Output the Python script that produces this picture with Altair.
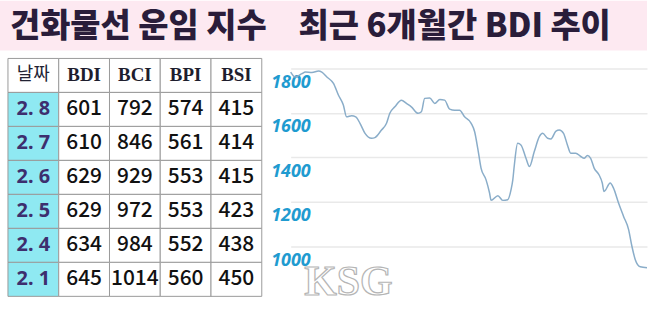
import altair as alt
import pandas as pd

# ---------------- data ----------------
title_left = "건화물선 운임 지수"
title_right = "최근 6개월간 BDI 추이"

headers = ["날짜", "BDI", "BCI", "BPI", "BSI"]
dates = ["2. 8", "2. 7", "2. 6", "2. 5", "2. 4", "2. 1"]
bdi = [601, 610, 629, 629, 634, 645]
bci = [792, 846, 929, 972, 984, 1014]
bpi = [574, 561, 553, 553, 552, 560]
bsi = [415, 414, 415, 423, 438, 450]

# 6-month BDI trend
trend_day = [0, 2.4, 5.8, 7.6, 11, 14.4, 16.1, 18.7, 22.1, 24.7, 27.2, 28.9, 31.5, 33.6,
             35.8, 38.4, 41.8, 43.5, 46.9, 49.5, 51.2, 53.8, 57.2, 59.8, 62.3, 65.8, 67.5,
             69.2, 71.8, 74.4, 77, 79.5, 82.1, 84.7, 87.2, 89.8, 93.2, 95, 96.6, 98.3, 100.9,
             102.7, 103.5, 107, 109.5, 112.1, 113.8, 114.7, 115.5, 117.2, 118.9, 121.5, 123.3,
             125.8, 128.4, 130.1, 132.7, 134.4, 137, 138.7, 140.9, 142.9, 144.6, 147.2, 149.8,
             151.5, 153.2, 154.9, 156.7, 159.2, 160.9, 161.8, 165, 166.7, 169.3, 171.9, 174.5,
             176.2, 177.9, 180.5, 184]
trend_bdi = [1783, 1761, 1776, 1783, 1781, 1788, 1783, 1761, 1732, 1679, 1635, 1582, 1587, 1582,
             1553, 1508, 1486, 1489, 1523, 1553, 1598, 1627, 1657, 1642, 1627, 1598, 1605,
             1665, 1667, 1642, 1660, 1657, 1617, 1612, 1612, 1582, 1553, 1515, 1441, 1352, 1299,
             1240, 1207, 1228, 1207, 1210, 1255, 1299, 1366, 1463, 1456, 1396, 1359,
             1426, 1493, 1508, 1486, 1483, 1518, 1523, 1508, 1456, 1419, 1419, 1404,
             1396, 1408, 1396, 1352, 1322, 1285, 1247, 1285, 1262, 1195, 1135, 1076,
             1001, 942, 909, 905]
y_ticks = [1000, 1200, 1400, 1600, 1800]
watermark = "KSG"

# ---------------- styling ----------------
BAND = "#fde9f1"
TITLE_COLOR = "#2a1d3a"
CYAN = "#8fe9f2"
BORDER = "#9a9a9a"
KFONT = "Noto Sans CJK KR"

# ---------------- title band ----------------
def title_text(s, x, size):
    return alt.Chart(pd.DataFrame({"t": [s]})).mark_text(
        align="left", baseline="middle", font=KFONT, fontSize=size,
        fontWeight=900, color=TITLE_COLOR
    ).encode(text="t:N", x=alt.value(x), y=alt.value(26))

top = alt.layer(title_text(title_left, 10, 33), title_text(title_right, 300, 33)).properties(
    width=650, height=50, view=alt.ViewBackground(fill=BAND, strokeWidth=0)
)

# ---------------- table ----------------
row_keys = ["h"] + dates
recs = []
for c, h in enumerate(headers):
    recs.append({"col": h, "row": "h", "text": h,
                 "kind": "hk" if c == 0 else "hs", "bg": "white"})
cols = [bdi, bci, bpi, bsi]
for r, d in enumerate(dates):
    recs.append({"col": headers[0], "row": d, "text": d, "kind": "date", "bg": CYAN})
    for c, arr in enumerate(cols):
        recs.append({"col": headers[c + 1], "row": d, "text": str(arr[r]),
                     "kind": "num", "bg": "white"})
tdf = pd.DataFrame(recs)

xenc = alt.X("col:N", sort=headers, axis=None,
             scale=alt.Scale(paddingInner=0, paddingOuter=0.1667, align=0.47))
yenc = alt.Y("row:N", sort=row_keys, axis=None,
             scale=alt.Scale(paddingInner=0, paddingOuter=0.3076, align=0.381))

tbase = alt.Chart(tdf).encode(x=xenc, y=yenc)
cells = tbase.mark_rect(stroke=BORDER, strokeWidth=1).encode(
    fill=alt.Fill("bg:N", scale=None))
t_hk = tbase.transform_filter("datum.kind == 'hk'").mark_text(
    font=KFONT, fontSize=18, color="#222233").encode(text="text:N")
t_hs = tbase.transform_filter("datum.kind == 'hs'").mark_text(
    font="Liberation Serif", fontSize=19, fontWeight="bold", color="#1e1e2e").encode(text="text:N")
t_date = tbase.transform_filter("datum.kind == 'date'").mark_text(
    font="Noto Sans", fontSize=20, fontWeight="bold", color="#3d2f6e").encode(text="text:N")
t_num = tbase.transform_filter("datum.kind == 'num'").mark_text(
    font=KFONT, fontSize=21, fontWeight=500, color="#111111").encode(text="text:N")

table = alt.layer(cells, t_hk, t_hs, t_date, t_num).properties(width=272, height=260)

# ---------------- line chart ----------------
ldf = pd.DataFrame({"day": trend_day, "bdi": trend_bdi})
lx = alt.X("day:Q", axis=None, scale=alt.Scale(domain=[0, 184], nice=False, zero=False))
ly = alt.Y("bdi:Q", scale=alt.Scale(domain=[718, 1880], nice=False, zero=False),
           axis=alt.Axis(values=y_ticks, title=None, domain=False, ticks=False,
                         grid=True, gridColor="#e9e9e9", gridWidth=1.5,
                         labelAlign="left", labelPadding=20, labelOffset=14,
                         labelFont="Open Sans", labelFontSize=18, labelFontWeight="bold",
                         labelFontStyle="italic", labelColor="#1f9bd0",
                         minExtent=0, format="d"))
line = alt.Chart(ldf).mark_line(color="#8aadc9", strokeWidth=1.5,
                                interpolate="monotone").encode(x=lx, y=ly)

wm = pd.DataFrame({"t": [watermark]})
wm_text = alt.Chart(wm).mark_text(font="Liberation Serif", fontSize=42, fontWeight="bold",
                                  color="white", stroke="#b5b5b5", strokeWidth=1.2,
                                  align="center", baseline="middle").encode(
    text="t:N", x=alt.value(58), y=alt.value(233))

linechart = alt.layer(line, wm_text).properties(width=358, height=260)

bottom = alt.hconcat(table, linechart, spacing=0)
chart = alt.vconcat(top, bottom, spacing=0).properties(
    padding=0, background="white"
).configure_view(strokeWidth=0)

chart.save("out.html", embed_options={"renderer": "svg", "actions": False})
